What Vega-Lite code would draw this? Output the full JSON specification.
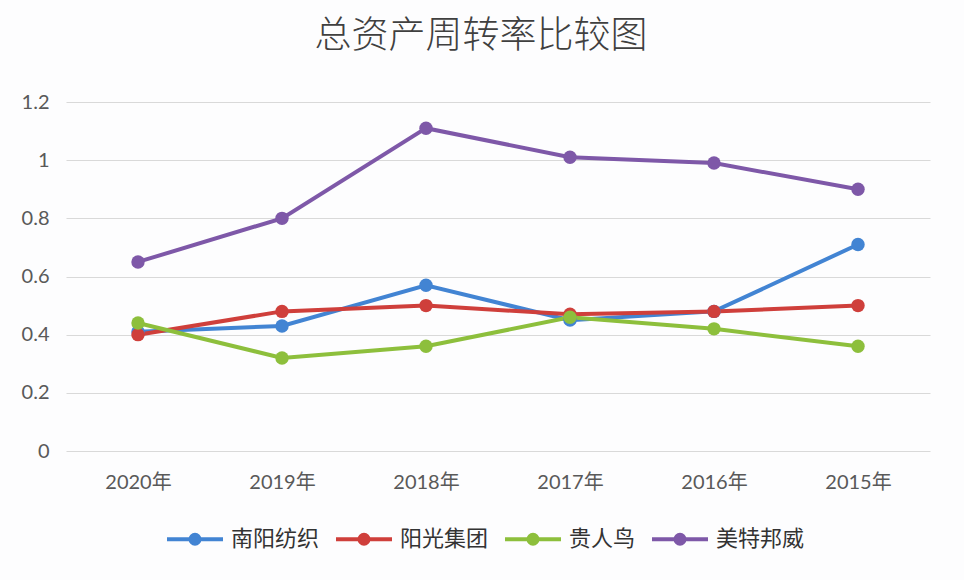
{
  "$schema": "https://vega.github.io/schema/vega-lite/v6.json",
  "width": 864,
  "height": 349,
  "autosize": "none",
  "padding": {"left": 66, "top": 102, "right": 34, "bottom": 129},
  "background": "#fdfdfe",
  "title": {
    "text": "总资产周转率比较图",
    "font": "Noto Sans CJK SC",
    "fontSize": 37,
    "fontWeight": 300,
    "color": "#404040",
    "anchor": "middle",
    "offset": 36,
    "dx": -17
  },
  "data": {
    "values": [
      {"year": "2020年", "company": "南阳纺织", "value": 0.41},
      {"year": "2019年", "company": "南阳纺织", "value": 0.43},
      {"year": "2018年", "company": "南阳纺织", "value": 0.57},
      {"year": "2017年", "company": "南阳纺织", "value": 0.45},
      {"year": "2016年", "company": "南阳纺织", "value": 0.48},
      {"year": "2015年", "company": "南阳纺织", "value": 0.71},
      {"year": "2020年", "company": "阳光集团", "value": 0.40},
      {"year": "2019年", "company": "阳光集团", "value": 0.48},
      {"year": "2018年", "company": "阳光集团", "value": 0.50},
      {"year": "2017年", "company": "阳光集团", "value": 0.47},
      {"year": "2016年", "company": "阳光集团", "value": 0.48},
      {"year": "2015年", "company": "阳光集团", "value": 0.50},
      {"year": "2020年", "company": "贵人鸟", "value": 0.44},
      {"year": "2019年", "company": "贵人鸟", "value": 0.32},
      {"year": "2018年", "company": "贵人鸟", "value": 0.36},
      {"year": "2017年", "company": "贵人鸟", "value": 0.46},
      {"year": "2016年", "company": "贵人鸟", "value": 0.42},
      {"year": "2015年", "company": "贵人鸟", "value": 0.36},
      {"year": "2020年", "company": "美特邦威", "value": 0.65},
      {"year": "2019年", "company": "美特邦威", "value": 0.80},
      {"year": "2018年", "company": "美特邦威", "value": 1.11},
      {"year": "2017年", "company": "美特邦威", "value": 1.01},
      {"year": "2016年", "company": "美特邦威", "value": 0.99},
      {"year": "2015年", "company": "美特邦威", "value": 0.90}
    ]
  },
  "mark": {
    "type": "line",
    "strokeWidth": 4,
    "point": {"filled": true, "size": 180, "opacity": 1}
  },
  "encoding": {
    "x": {
      "field": "year",
      "type": "ordinal",
      "sort": ["2020年", "2019年", "2018年", "2017年", "2016年", "2015年"],
      "scale": {"paddingOuter": 0.5, "paddingInner": 0},
      "axis": {
        "title": null,
        "labelAngle": 0,
        "domain": false,
        "ticks": false,
        "grid": false,
        "labelFont": "Lato, Noto Sans CJK SC",
        "labelFontSize": 20,
        "labelColor": "#595959",
        "labelPadding": 21
      }
    },
    "y": {
      "field": "value",
      "type": "quantitative",
      "scale": {"domain": [0, 1.2], "nice": false, "zero": true},
      "axis": {
        "title": null,
        "values": [0, 0.2, 0.4, 0.6, 0.8, 1, 1.2],
        "format": "~g",
        "domain": false,
        "ticks": false,
        "grid": true,
        "gridColor": "#d9d9d9",
        "gridWidth": 1,
        "labelFont": "Lato, Noto Sans CJK SC",
        "labelFontSize": 20,
        "labelColor": "#595959",
        "labelPadding": 17
      }
    },
    "color": {
      "field": "company",
      "type": "nominal",
      "sort": ["南阳纺织", "阳光集团", "贵人鸟", "美特邦威"],
      "scale": {
        "domain": ["南阳纺织", "阳光集团", "贵人鸟", "美特邦威"],
        "range": ["#4284d3", "#cf3f3b", "#8dbf3c", "#7e58a8"]
      },
      "legend": {
        "title": null,
        "orient": "none",
        "direction": "horizontal",
        "legendX": 99,
        "legendY": 407,
        "symbolType": "M-1,0H1M-0.16,0A0.16,0.16,0,1,1,0.16,0A0.16,0.16,0,1,1,-0.16,0Z",
        "symbolSize": 3136,
        "symbolStrokeWidth": 4,
        "labelFont": "Noto Sans CJK SC",
        "labelFontSize": 22,
        "labelColor": "#333333",
        "labelOffset": 6,
        "columnPadding": 8,
        "encode": {
          "symbols": {
            "update": {
              "fill": {"scale": "color", "field": "value"},
              "stroke": {"scale": "color", "field": "value"},
              "opacity": {"value": 1}
            }
          }
        }
      }
    }
  },
  "config": {
    "view": {"stroke": null}
  }
}
